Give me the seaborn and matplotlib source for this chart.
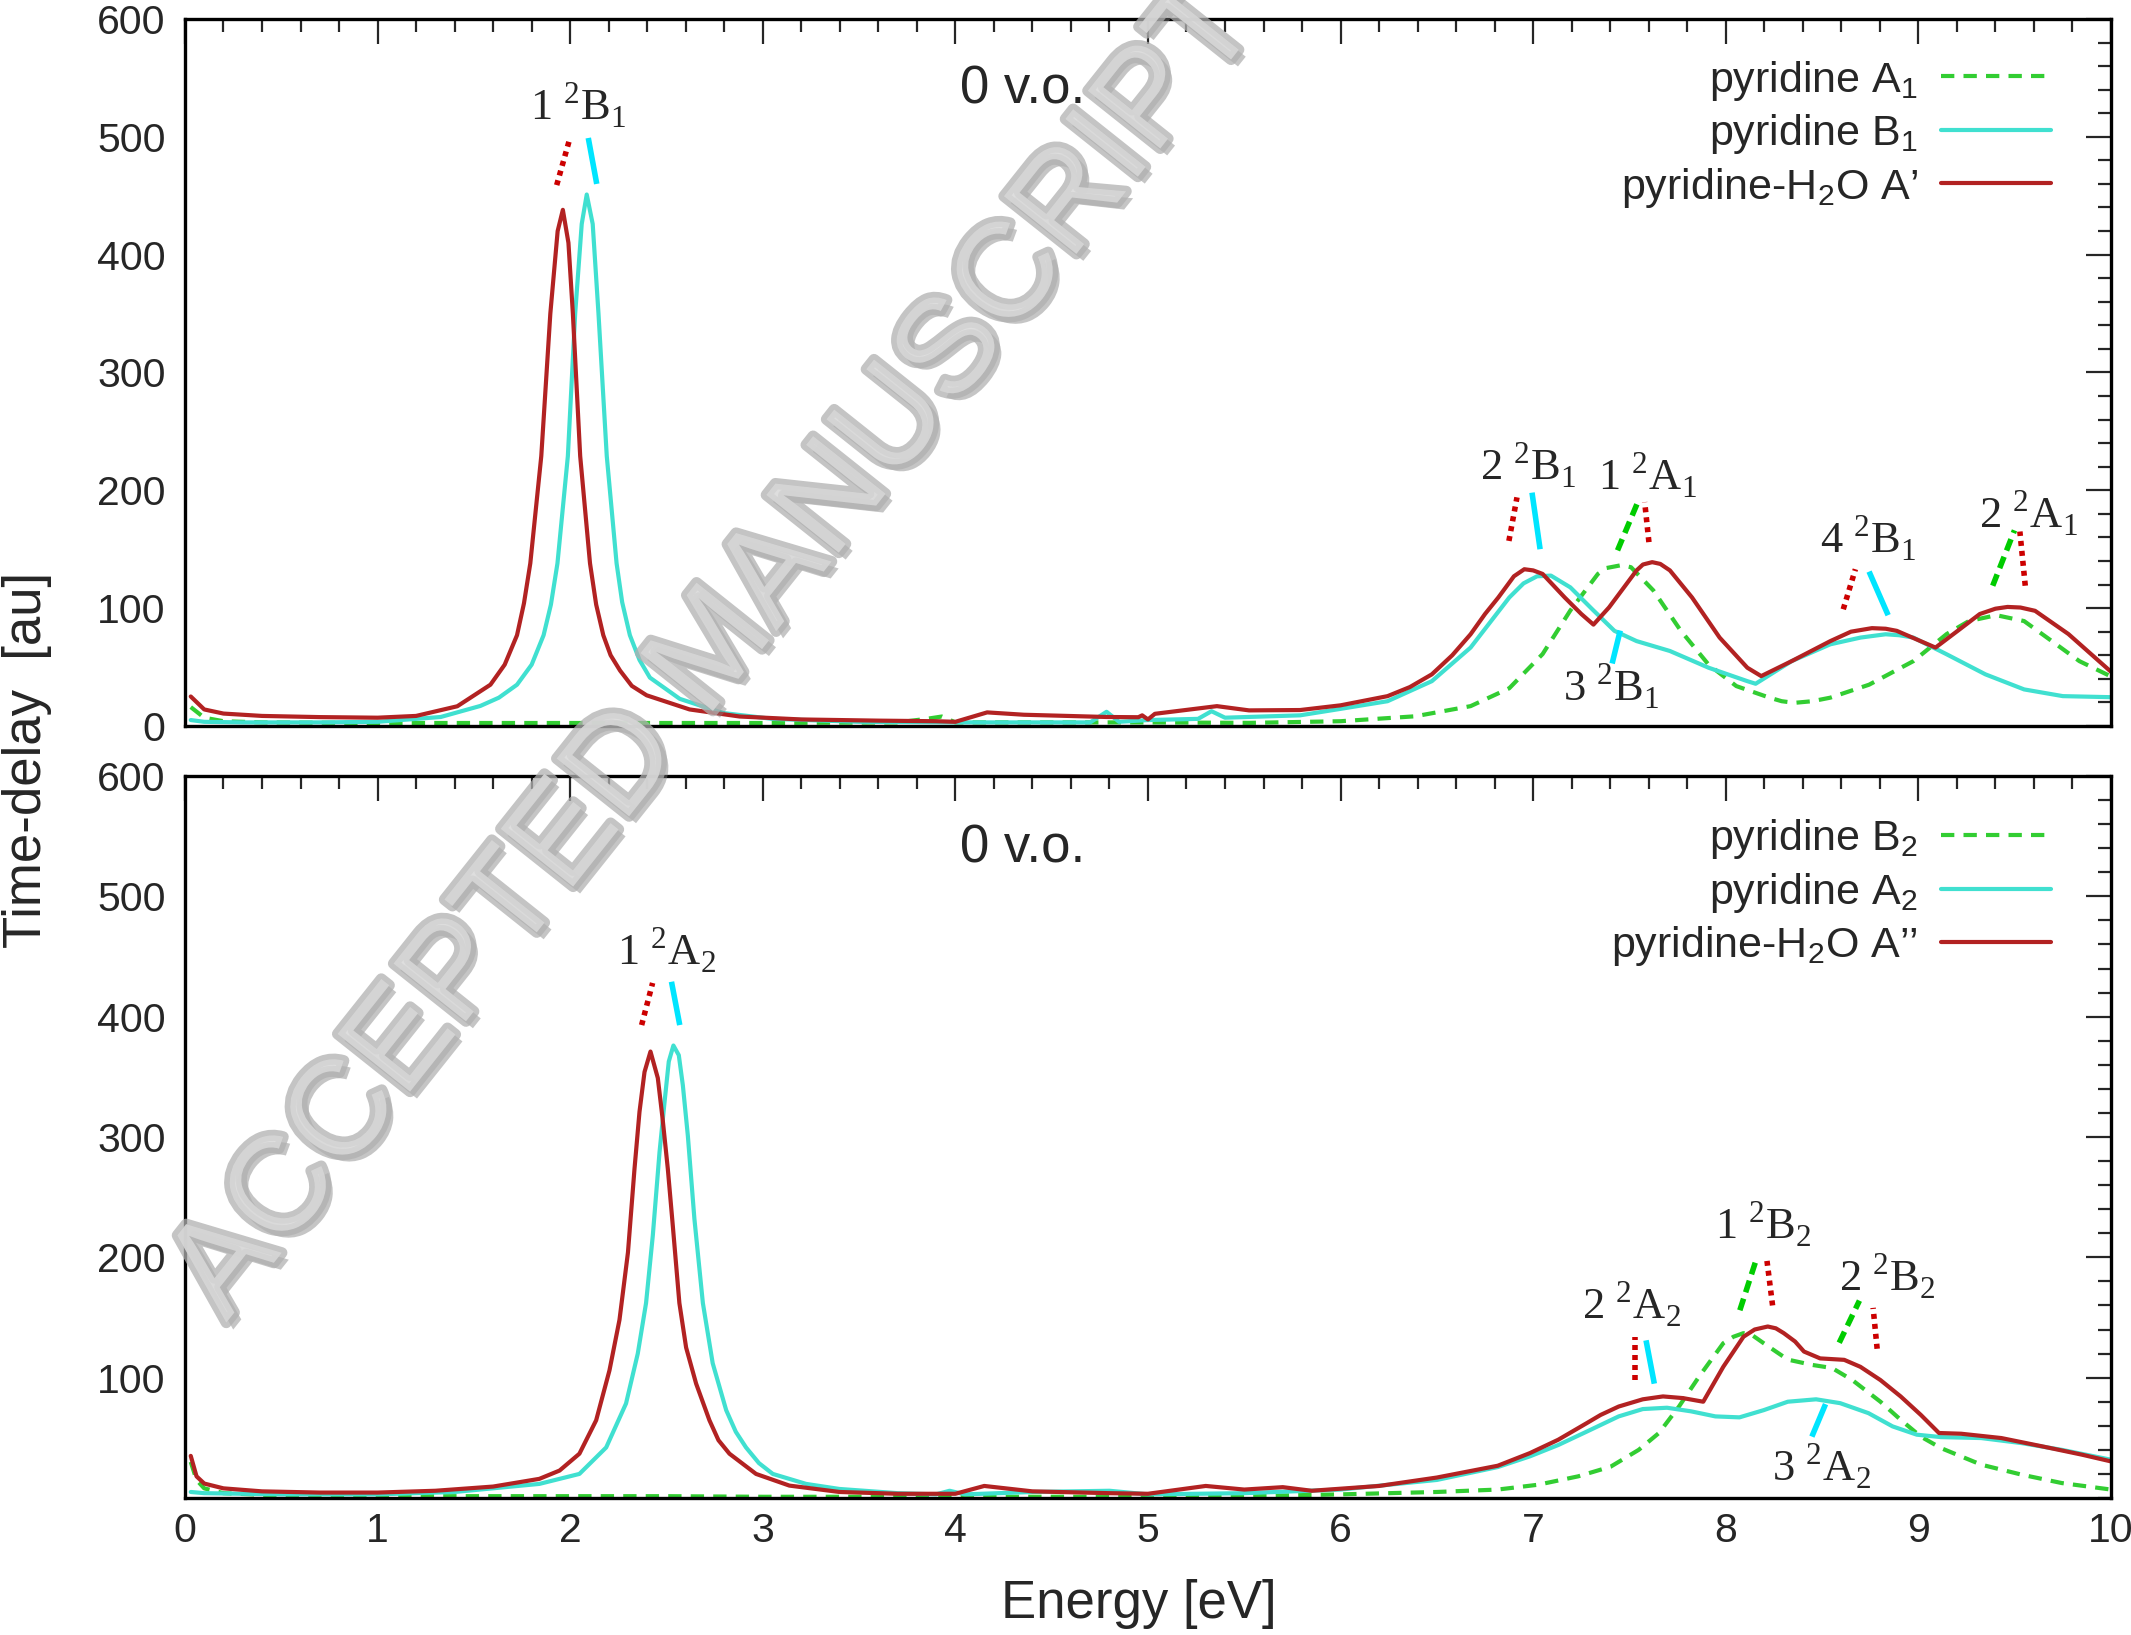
import numpy as np
import pandas as pd
import matplotlib
matplotlib.use("Agg")
import matplotlib.pyplot as plt
import matplotlib.patheffects as pe
import seaborn as sns

# ---------------- data ----------------
# Top panel
top_red_E = [0.03, 0.1, 0.2, 0.4, 0.7, 1.0, 1.2, 1.414, 1.586, 1.66, 1.724, 1.76, 1.793, 1.850, 1.897,
             1.935, 1.962, 1.991, 2.014, 2.052, 2.103, 2.135, 2.172, 2.21, 2.259, 2.32, 2.397, 2.62,
             2.88, 3.2, 3.6, 3.9, 4.0, 4.165, 4.356, 4.785, 4.95, 4.97, 5.0, 5.036, 5.358, 5.525, 5.79,
             6.0, 6.244, 6.36, 6.474, 6.58, 6.675, 6.75, 6.819, 6.90, 6.954, 7.0, 7.049, 7.164, 7.25,
             7.313, 7.394, 7.537, 7.57, 7.618, 7.66, 7.71, 7.825, 7.968, 8.112, 8.184, 8.342, 8.543,
             8.65, 8.759, 8.83, 8.888, 9.089, 9.204, 9.319, 9.40, 9.463, 9.53, 9.606, 9.779, 10.0]
top_red_V = [25, 14, 10.5, 8.5, 7.5, 7, 8.5, 16.7, 35, 52, 77, 104, 138, 229, 350,
             420, 438, 410, 350, 229, 138, 103, 77, 60, 47, 34, 26, 14,
             8, 5.5, 4.5, 4, 3.5, 11.5, 9.5, 7.6, 7.4, 9, 5.5, 10.3, 16.8, 13.2, 13.5,
             17.5, 25.3, 33, 43.8, 60, 77.8, 95, 109, 127, 133, 132, 129, 109, 95,
             86, 100.6, 132, 137, 139, 137.5, 132, 109, 75, 49.4, 42.3, 55, 72,
             80, 83, 82.5, 80.7, 66.5, 80.7, 95, 99.5, 101, 100.5, 97.7, 78, 46]

top_cyan_E = [0.03, 0.1, 0.3, 0.7, 1.0, 1.328, 1.534, 1.63, 1.724, 1.80, 1.862, 1.90, 1.934, 1.988,
              2.026, 2.060, 2.086, 2.117, 2.147, 2.19, 2.241, 2.27, 2.31, 2.36, 2.414, 2.569, 2.793,
              3.05, 3.5, 4.0, 4.7, 4.785, 4.85, 5.0, 5.26, 5.33, 5.40, 5.79, 6.0, 6.244, 6.474, 6.675,
              6.876, 6.95, 7.02, 7.092, 7.193, 7.307, 7.422, 7.537, 7.71, 7.911, 8.112, 8.155, 8.342,
              8.543, 8.70, 8.83, 8.90, 8.974, 9.147, 9.348, 9.549, 9.75, 10.0]
top_cyan_V = [5, 3.5, 3, 3, 3.5, 7.6, 17, 24, 35, 52, 77, 103, 138, 229,
              350, 426, 451, 426, 350, 229, 138, 105, 77, 56, 41, 23, 11,
              6, 3.5, 3, 3, 12, 3.5, 5, 6, 12.5, 7, 9, 14.5, 21, 38, 66.5,
              109, 121, 127, 127.6, 117.6, 99, 80.7, 72, 63.6, 49.4, 38, 35.8, 55,
              69.3, 75, 77.8, 77, 75, 60.8, 43.8, 31, 25.3, 24.4]

top_green_E = [0.03, 0.1, 0.2, 0.4, 1.0, 2.0, 3.0, 3.7, 3.85, 3.93, 4.0, 4.5, 5.0, 5.526, 6.0, 6.388,
               6.675, 6.876, 7.049, 7.193, 7.336, 7.38, 7.46, 7.508, 7.624, 7.767, 7.911, 8.055,
               8.227, 8.29, 8.356, 8.45, 8.543, 8.744, 8.974, 9.147, 9.262, 9.405, 9.549, 9.693,
               9.836, 10.0]
top_green_V = [16, 7, 4, 3, 2.5, 2.5, 2.5, 3, 6, 8, 3, 3, 3, 2.6, 4, 8.2,
               16.8, 32, 61, 98, 129, 134, 136.5, 134.7, 115, 80.7, 52, 33.8,
               24, 21, 19.6, 21, 24, 35, 55, 78, 89, 94, 89, 72,
               55, 42]

# Bottom panel
bot_red_E = [0.03, 0.06, 0.1, 0.2, 0.4, 0.7, 1.0, 1.3, 1.6, 1.84, 1.945, 2.048, 2.135, 2.204, 2.256,
             2.3, 2.334, 2.36, 2.386, 2.417, 2.455, 2.48, 2.507, 2.533, 2.567, 2.602, 2.654, 2.723,
             2.77, 2.827, 2.965, 3.138, 3.398, 3.7, 4.0, 4.15, 4.4, 4.8, 5.0, 5.3, 5.5, 5.7, 5.85,
             6.2, 6.5, 6.816, 6.983, 7.13, 7.276, 7.35, 7.444, 7.569, 7.674, 7.778, 7.883, 7.987,
             8.092, 8.15, 8.218, 8.26, 8.301, 8.36, 8.406, 8.49, 8.615, 8.699, 8.803, 8.908, 9.013,
             9.107, 9.222, 9.431, 9.64, 9.849, 10.0]
bot_red_V = [35, 18, 12, 8, 5.5, 4.5, 4.5, 6, 9.5, 15.9, 22.8, 36.8, 64.6, 106, 148,
             204, 273.5, 321, 354, 371, 349, 315, 273.5, 226, 162, 125, 95, 64.6,
             48, 36.8, 20, 10.3, 5, 3.5, 3.5, 10, 5.5, 4, 3.5, 10, 7, 9, 6,
             10, 17, 26.8, 37.3, 48.4, 62, 69, 76, 82, 84.4, 83, 80, 109,
             134, 140, 142.5, 141, 137, 130, 121.7, 116, 114.8, 109, 98, 84.4, 69,
             54, 53.4, 49.8, 43, 36, 30.4]

bot_cyan_E = [0.03, 0.1, 0.5, 1.0, 1.4, 1.84, 2.048, 2.187, 2.29, 2.351, 2.394, 2.429, 2.464, 2.49,
              2.512, 2.536, 2.564, 2.585, 2.611, 2.645, 2.689, 2.74, 2.81, 2.86, 2.913, 2.98, 3.052,
              3.225, 3.398, 3.7, 3.9, 3.97, 4.05, 4.4, 4.8, 5.0, 5.5, 6.0, 6.5, 6.816, 6.983, 7.13,
              7.276, 7.444, 7.569, 7.695, 7.82, 7.946, 8.071, 8.197, 8.322, 8.469, 8.594, 8.741,
              8.866, 8.992, 9.117, 9.326, 9.536, 9.745, 10.0]
bot_cyan_V = [5, 4, 3, 3, 5, 11.7, 20, 42, 78.5, 120, 162, 218, 287.5, 329,
              362.7, 376, 368, 343, 301, 232, 162, 112, 73, 55, 42, 29, 20,
              11.7, 7.5, 4, 3, 6, 3, 5, 6, 3, 4, 7, 15, 25.7, 34.6, 44,
              55, 67.8, 73.9, 75, 72, 67.8, 67, 73, 80, 82, 78.8, 70.5,
              59.5, 52.6, 50.6, 49.8, 45.6, 40, 31.8]

bot_green_E = [0.03, 0.06, 0.1, 0.2, 0.5, 1.0, 2.0, 2.5, 3.0, 4.0, 5.0, 5.5, 6.0, 6.5, 6.816, 7.025,
               7.234, 7.402, 7.548, 7.653, 7.757, 7.862, 7.987, 8.04, 8.092, 8.14, 8.197, 8.322,
               8.448, 8.552, 8.657, 8.803, 8.908, 9.013, 9.117, 9.326, 9.536, 9.745, 10.0]
bot_green_V = [30, 15, 8, 4, 2, 1.5, 1.5, 1.5, 1, 1, 1, 1.5, 3, 5, 7, 11,
               18, 26, 40, 54, 76, 101, 128.6, 134, 137, 135, 128.6, 115,
               110.6, 108, 98, 80, 65, 51, 41.5, 27.7, 19.4, 12.4, 7]

top_labels = ["pyridine A$_\\mathregular{1}$", "pyridine B$_\\mathregular{1}$",
              "pyridine-H$_\\mathregular{2}$O A\u2019"]
bot_labels = ["pyridine B$_\\mathregular{2}$", "pyridine A$_\\mathregular{2}$",
              "pyridine-H$_\\mathregular{2}$O A\u2019\u2019"]

# state annotations: (number, symmetry, subscript, x, y) and marker segments (x0, y0, x1, y1, kind)
top_states = [("1", "B", "1", 2.044, 514), ("2", "B", "1", 6.972, 209), ("1", "A", "1", 7.594, 200),
              ("3", "B", "1", 7.403, 21), ("4", "B", "1", 8.737, 147), ("2", "A", "1", 9.57, 168)]
top_marks = [(1.93, 459, 1.999, 499, "r"), (2.138, 460, 2.094, 499, "c"),
             (6.874, 157, 6.916, 194, "r"), (7.036, 150, 6.994, 198, "c"),
             (7.438, 149, 7.551, 193, "g"), (7.601, 156, 7.579, 190, "r"),
             (7.410, 53, 7.452, 81, "c"),
             (8.610, 99, 8.673, 133, "r"), (8.843, 94, 8.744, 131, "c"),
             (9.386, 119, 9.499, 166, "g"), (9.555, 119, 9.527, 165, "r")]
bot_states = [("1", "A", "2", 2.498, 443), ("2", "A", "2", 7.509, 149), ("1", "B", "2", 8.193, 215),
              ("2", "B", "2", 8.836, 172), ("3", "A", "2", 8.497, 14)]
bot_marks = [(2.371, 393, 2.428, 428, "r"), (2.569, 393, 2.526, 429, "c"),
             (7.530, 98, 7.530, 134, "r"), (7.629, 95, 7.586, 131, "c"),
             (8.073, 156, 8.158, 198, "g"), (8.243, 160, 8.214, 197, "r"),
             (8.589, 129, 8.694, 164, "g"), (8.786, 124, 8.765, 158, "r"),
             (8.447, 51, 8.518, 78, "c")]

# ---------------- style ----------------
sns.set_style("white")
plt.rcParams['font.family'] = ['Liberation Sans', 'DejaVu Sans']
plt.rcParams['mathtext.fontset'] = 'custom'
plt.rcParams['mathtext.rm'] = 'Liberation Sans'
plt.rcParams['mathtext.it'] = 'Liberation Sans:italic'

GREEN = '#32cd32'
CYAN = '#40e0d0'
RED = '#b22222'
MARK = {"r": ('#cc0000', (0, (0.9, 0.9))), "c": ('#00e5ff', '-'), "g": ('#00cc00', (0, (2.2, 1.2)))}

fig = plt.figure(figsize=(21.31, 16.35), dpi=100)
ax1 = fig.add_axes([0.0868, 0.5560, 0.9038, 0.4324])
ax2 = fig.add_axes([0.0868, 0.0838, 0.9038, 0.4416])

LW = 3.0


def draw(ax, series, labels, states, marks, leg_y):
    styles = [(GREEN, (0, (3.2, 2.2))), (CYAN, '-'), (RED, '-')]
    for (E, V), lab, (col, ls) in zip(series, labels, styles):
        df = pd.DataFrame({"E": E, "V": V})
        sns.lineplot(data=df, x="E", y="V", ax=ax, color=col, linestyle=ls, linewidth=LW,
                     label=lab, estimator=None, sort=True)
    for (x0, y0, x1, y1, k) in marks:
        col, ls = MARK[k]
        ax.plot([x0, x1], [y0, y1], color=col, linestyle=ls, linewidth=4.0,
                solid_capstyle='butt', dash_capstyle='butt', zorder=5)
    for (n, sym, sub, x, y) in states:
        ax.text(x, y, n + " $^\\mathregular{2}$" + sym + "$_\\mathregular{" + sub + "}$",
                ha='center', va='baseline', fontsize=32, family='Liberation Serif', zorder=6)
    ax.set_xlim(0, 10)
    ax.set_ylim(0, 600)
    ax.set_xticks(range(0, 11))
    ax.set_xticks(np.arange(0, 10.01, 0.2), minor=True)
    ax.set_yticks(np.arange(0, 600.1, 20), minor=True)
    ax.tick_params(which='both', direction='in', top=True, right=True, width=1.6,
                   labelsize=29.5, pad=14)
    ax.tick_params(which='major', length=18)
    ax.tick_params(which='minor', length=9.5)
    for s in ax.spines.values():
        s.set_linewidth(2.4)
        s.set_color('black')
    ax.set_xlabel("")
    ax.set_ylabel("")
    ax.legend(loc='upper right', bbox_to_anchor=(0.969, leg_y), frameon=False,
              markerfirst=False, fontsize=31, handlelength=2.55, handletextpad=0.55,
              labelspacing=0.22, borderpad=0, borderaxespad=0)
    ax.text(4.347, 540, "0 v.o.", ha='center', va='center', fontsize=38)


draw(ax1, [(top_green_E, top_green_V), (top_cyan_E, top_cyan_V), (top_red_E, top_red_V)],
     top_labels, top_states, top_marks, 0.944)
draw(ax2, [(bot_green_E, bot_green_V), (bot_cyan_E, bot_cyan_V), (bot_red_E, bot_red_V)],
     bot_labels, bot_states, bot_marks, 0.943)

ax1.set_yticks(range(0, 601, 100))
ax1.tick_params(axis='x', labelbottom=False)
ax2.set_yticks(range(100, 601, 100))
ax2.tick_params(axis='x', pad=10)

fig.text(0.0127, 0.535, "Time-delay  [au]", rotation=90, ha='center', va='center', fontsize=38)
fig.text(0.5345, 0.019, "Energy [eV]", ha='center', va='center', fontsize=38)

# watermark
fig.text(0.336, 0.602, "ACCEPTED MANUSCRIPT", rotation=51.5, ha='center', va='center',
         fontsize=97, color='#dcdcdc', alpha=0.75, family='Liberation Sans', zorder=20,
         path_effects=[pe.SimplePatchShadow(offset=(5, -5), shadow_rgbFace='#808080', alpha=0.45),
                       pe.withStroke(linewidth=8, foreground='#b0b0b0')])

fig.savefig("out.png", dpi=100)
